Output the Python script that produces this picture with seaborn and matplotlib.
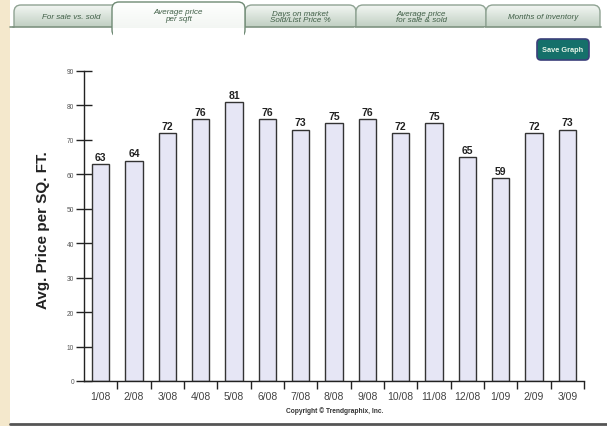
import numpy as np
import seaborn as sns
import matplotlib.pyplot as plt
from matplotlib.patches import FancyBboxPatch, Rectangle

months = ["1/08", "2/08", "3/08", "4/08", "5/08", "6/08", "7/08", "8/08",
          "9/08", "10/08", "11/08", "12/08", "1/09", "2/09", "3/09"]
price_sqft = [63, 64, 72, 76, 81, 76, 73, 75, 76, 72, 75, 65, 59, 72, 73]
tab_labels = ["For sale vs. sold", "Average price\nper sqft", "Days on market\nSold/List Price %",
              "Average price\nfor sale & sold", "Months of inventory"]
y_ticks = [0, 10, 20, 30, 40, 50, 60, 70, 80, 90]

W, H = 607, 427
sns.set_style("white")
plt.rcParams['font.family'] = ['Liberation Sans', 'DejaVu Sans']
plt.rcParams['xtick.bottom'] = True
plt.rcParams['ytick.left'] = True

fig = plt.figure(figsize=(W / 100, H / 100), dpi=100)

# background layer in pixel coords (tabs, frame, button)
bg = fig.add_axes([0, 0, 1, 1], zorder=0)
bg.set_xlim(0, W)
bg.set_ylim(H, 0)
bg.axis("off")
bg.add_patch(Rectangle((0, 0), 10, H, color="#f4e8cc", lw=0))
bg.plot([10, W], [425, 425], color="#555555", lw=2)

# tabs
tabs = [(14, 128), (112, 245), (245, 356), (356, 486), (486, 600)]
grad = np.linspace(0, 1, 64).reshape(-1, 1)
order = [0, 2, 3, 4, 1]
for k, i in enumerate(order):
    x0, x1 = tabs[i]
    active = i == 1
    top = 3 if active else 6
    bot = 28
    z = 2 + k
    patch = FancyBboxPatch((x0, top), x1 - x0, bot - top + 10,
                           boxstyle="round,pad=0,rounding_size=7",
                           fc="none", ec="#6f8a74" if active else "#8fa393",
                           lw=1.0, zorder=z + 0.2)
    bg.add_patch(patch)
    cmap = sns.blend_palette(["#ffffff", "#eef3ee"] if active else ["#f2f6f2", "#a9bdac"],
                             as_cmap=True)
    im = bg.imshow(grad, cmap=cmap, extent=(x0, x1, bot + 10, top), aspect="auto", zorder=z)
    im.set_clip_path(patch)
    bg.text((x0 + x1) / 2, (top + bot) / 2 + 0.5, tab_labels[i], ha="center", va="center",
            fontsize=5.8, style="italic", color="#3f5e46", linespacing=0.85, zorder=20)
    if not active:
        bg.add_patch(Rectangle((x0 - 2, bot), x1 - x0 + 4, 12, color="#ffffff",
                               lw=0, zorder=z + 0.5))
        bg.plot([x0 - 1, x1 + 1], [bot, bot], color="#7f9482", lw=1.2, zorder=z + 0.6)
bg.add_patch(Rectangle((113, 28.5), 131, 12, color="#ffffff", lw=0, zorder=10))
bg.plot([10, 14], [28, 28], color="#7f9482", lw=1.2, zorder=10)
bg.set_ylim(H, 0)
bg.set_xlim(0, W)

# save button
bg.add_patch(FancyBboxPatch((537, 40), 52, 21, boxstyle="round,pad=0,rounding_size=4",
                            fc="#15706a", ec="#3b3f7a", lw=1.2, zorder=12))
bg.text(563, 50.5, "Save Graph", ha="center", va="center", fontsize=5.3,
        fontweight="bold", color="#e8f5e8", zorder=13)

# main chart
ax = fig.add_axes([84 / W, 1 - 382 / H, 500 / W, 310 / H], zorder=1)
ax.patch.set_alpha(0)
sns.barplot(x=months, y=price_sqft, ax=ax, color="#e6e6f5", edgecolor="#333333",
            linewidth=1.0, width=0.52, saturation=1)
ax.set_xlim(-0.5, len(months) - 0.5)
ax.set_ylim(0, 90)
for sp in ["top", "right"]:
    ax.spines[sp].set_visible(False)
ax.spines["left"].set_color("#222222")
ax.spines["bottom"].set_color("#222222")
ax.spines["left"].set_linewidth(1)
ax.spines["bottom"].set_linewidth(1)

ax.set_yticks(y_ticks)
ax.set_yticklabels([str(v) for v in y_ticks], fontsize=4.8, color="#555555")
ax.tick_params(axis="y", left=True, direction="inout", length=12, width=1,
               color="#222222", pad=1)

ax.set_xticks(np.arange(len(months)) + 0.5, minor=False)
ax.set_xticklabels([])
ax.tick_params(axis="x", bottom=True, direction="out", length=6, width=1, color="#222222")
ax.set_xticks(np.arange(len(months)), minor=True)
ax.set_xticklabels(months, minor=True, fontsize=7.5, color="#444444")
ax.tick_params(axis="x", which="minor", length=0, pad=7)

for i, v in enumerate(price_sqft):
    ax.text(i, v + 0.6, str(v), ha="center", va="bottom", fontsize=7.5,
            fontweight="bold", color="#222222")

ax.set_xlabel("")
ax.set_ylabel("")
fig.text(43 / W, 1 - 230 / H, "Avg. Price per SQ. FT.", rotation=90, ha="center",
         va="center", fontsize=11, fontweight="bold", color="#222222")
fig.text(335 / W, 1 - 411 / H, "Copyright \u00a9 Trendgraphix, Inc.", ha="center",
         va="center", fontsize=4.8, fontweight="bold", color="#333333")

fig.savefig("out.png", dpi=100)
